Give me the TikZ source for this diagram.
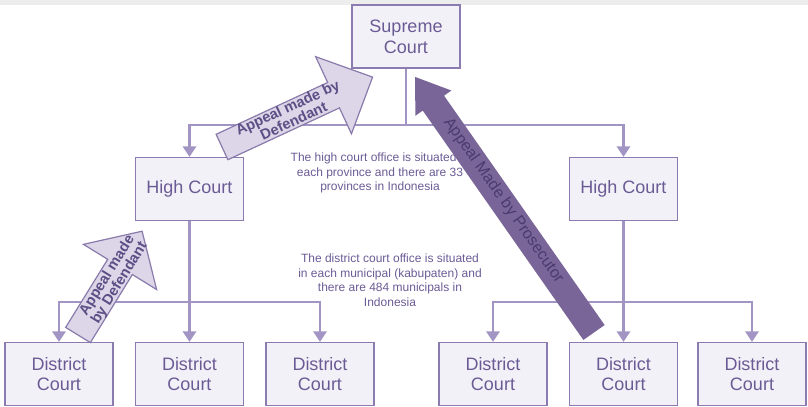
\documentclass[tikz,border=0pt]{standalone}
\usepackage{fontspec}
\setmainfont{Liberation Sans}
\usetikzlibrary{arrows.meta}

\definecolor{courtfill}{HTML}{F3F1F8}
\definecolor{courtline}{HTML}{8C7BB0}
\definecolor{courttext}{HTML}{6B5B95}
\definecolor{linkline}{HTML}{A295C4}
\definecolor{prosfill}{HTML}{7A6599}
\definecolor{prostext}{HTML}{4A3A6E}
\definecolor{deffill}{HTML}{DCD6E8}
\definecolor{defline}{HTML}{8A7AAB}
\definecolor{deftext}{HTML}{5E4E86}
\definecolor{topband}{HTML}{EDEDED}

\begin{document}
\begin{tikzpicture}[x=0.75pt, y=0.75pt,
    court/.style={draw=courtline, fill=courtfill, line width=1.1pt, rectangle,
        minimum width=81pt, minimum height=47pt, align=center,
        text=courttext, font=\fontsize{13.5}{15.5}\selectfont},
    link/.style={draw=linkline, line width=2.2pt},
    tolink/.style={link, -{Triangle[width=10pt,length=8pt]}},
    note/.style={align=center, text=courttext, font=\fontsize{9}{10.9}\selectfont},
    defarrow/.style={draw=defline, fill=deffill, line width=0.9pt, line join=miter},
    deflabel/.style={align=center, text=deftext, transform shape, inner sep=0pt,
        font=\fontsize{11}{10.8}\selectfont\bfseries},
    prosarrow/.style={fill=prosfill},
    proslabel/.style={text=prostext, transform shape, inner sep=0pt,
        font=\fontsize{12}{12}\selectfont}]
    \useasboundingbox (0,0) rectangle (808,-407);
    \fill[topband] (0,0) rectangle (808,-4.5);

    % courts
    \node[court] (sup) at (406,-36.5) {Supreme\\Court};
    \node[court] (hcL) at (189.5,-189) {High Court};
    \node[court] (hcR) at (623.5,-189) {High Court};
    \node[court] (dc1) at (59,-374) {District\\Court};
    \node[court] (dc2) at (189.5,-374) {District\\Court};
    \node[court] (dc3) at (320,-374) {District\\Court};
    \node[court] (dc4) at (493,-374) {District\\Court};
    \node[court] (dc5) at (623.5,-374) {District\\Court};
    \node[court] (dc6) at (752,-374) {District\\Court};

    % branching points
    \coordinate (jTop) at (406,-125);
    \coordinate (jL) at (189.5,-302);
    \coordinate (jR) at (623.5,-302);

    \draw[link] (sup) -- (jTop);
    \draw[tolink] (jTop) -| (hcL);
    \draw[tolink] (jTop) -| (hcR);
    \draw[link] (hcL) -- (jL);
    \draw[tolink] (jL) -| (dc1);
    \draw[tolink] (jL) -- (dc2);
    \draw[tolink] (jL) -| (dc3);
    \draw[link] (hcR) -- (jR);
    \draw[tolink] (jR) -| (dc4);
    \draw[tolink] (jR) -- (dc5);
    \draw[tolink] (jR) -| (dc6);

    % notes
    \node[note] (noteHigh) at (380,-173) {The high court office is situated in\\each province and there are 33\\provinces in Indonesia};
    \node[note] (noteDistrict) at (390,-280) {The district court office is situated\\in each municipal (kabupaten) and\\there are 484 municipals in\\Indonesia};

    % appeal made by defendant (high court)
    \begin{scope}[shift={(222,-147)}, rotate=24.9]
        \draw[defarrow] (0,-14) -- (123,-14) -- (123,-42.5) -- (166,0) -- (123,42.5) -- (123,14) -- (0,14) -- cycle;
        \node[deflabel] (defHigh) at (76,1) {Appeal made by\\Defendant};
    \end{scope}

    % appeal made by defendant (district court)
    \begin{scope}[shift={(78,-335)}, rotate=58.3]
        \draw[defarrow] (0,-14.5) -- (80,-14.5) -- (80,-43) -- (122,0) -- (80,43) -- (80,14.5) -- (0,14.5) -- cycle;
        \node[deflabel] (defDistrict) at (66,-1) {Appeal made\\by Defendant};
    \end{scope}

    % appeal made by prosecutor
    \begin{scope}[shift={(594,-332.5)}, rotate=125]
        \fill[prosarrow] (0,-13) -- (280,-13) -- (280,-22) -- (312,0) -- (280,22) -- (280,13) -- (0,13) -- cycle;
        \node[proslabel, rotate=180] (pros) at (160,-1.5) {Appeal Made by Prosecutor};
    \end{scope}
\end{tikzpicture}
\end{document}
